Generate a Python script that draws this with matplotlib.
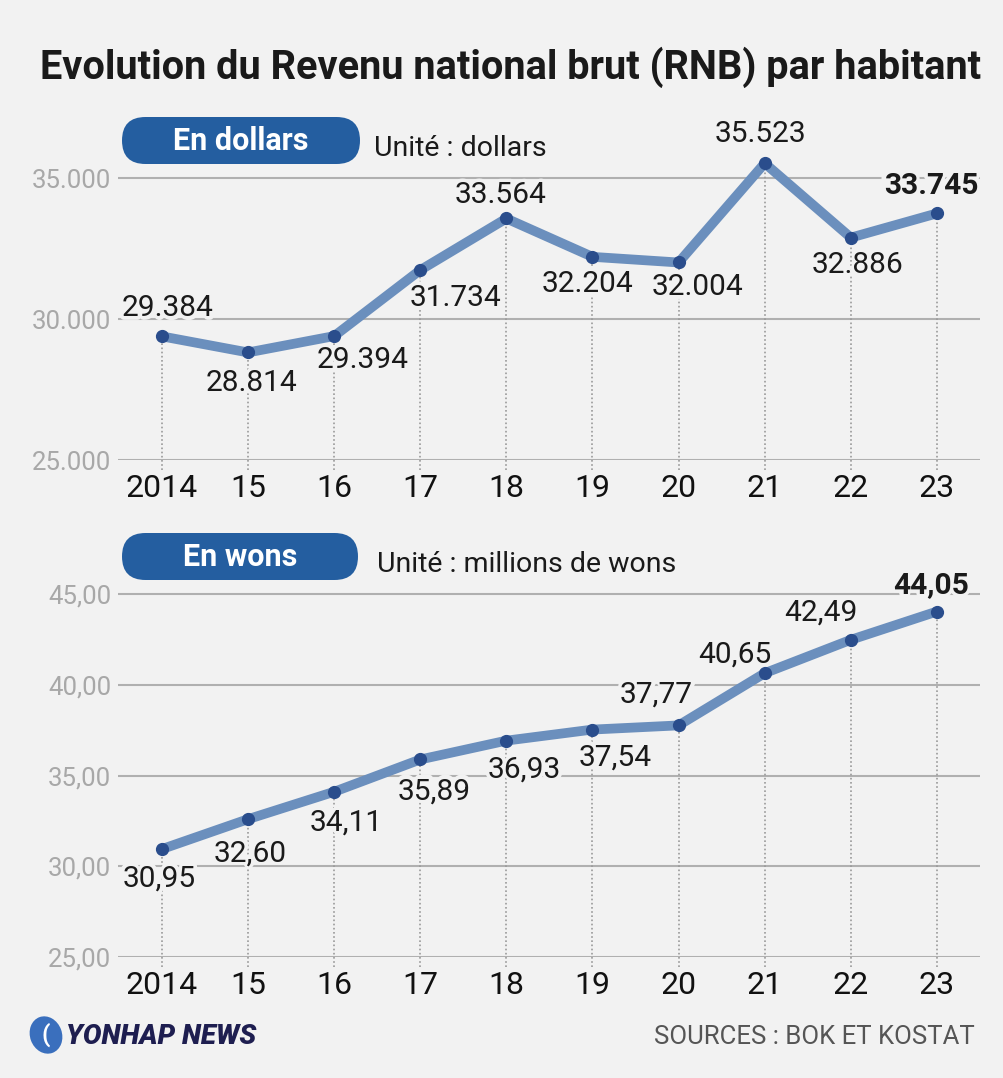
import matplotlib
matplotlib.use("Agg")
import matplotlib.pyplot as plt
import matplotlib.patheffects as pe
from matplotlib.patches import FancyBboxPatch, Ellipse

plt.rcParams['font.family'] = ['Roboto', 'DejaVu Sans']

years = ["2014", "15", "16", "17", "18", "19", "20", "21", "22", "23"]
usd_values = [29384, 28814, 29394, 31734, 33564, 32204, 32004, 35523, 32886, 33745]
usd_labels = ["29.384", "28.814", "29.394", "31.734", "33.564", "32.204", "32.004", "35.523", "32.886", "33.745"]
usd_ticks = [25000, 30000, 35000]
usd_ticklabels = ["25.000", "30.000", "35.000"]
krw_values = [30.95, 32.60, 34.11, 35.89, 36.93, 37.54, 37.77, 40.65, 42.49, 44.05]
krw_labels = ["30,95", "32,60", "34,11", "35,89", "36,93", "37,54", "37,77", "40,65", "42,49", "44,05"]
krw_ticks = [25, 30, 35, 40, 45]
krw_ticklabels = ["25,00", "30,00", "35,00", "40,00", "45,00"]

# label offsets in pixels (dx, dy; dy positive = up)
usd_off = [(6, 28), (3, -31), (28, -24), (35, -28), (-6, 23), (-5, -27), (19, -25), (-4, 29), (7, -27), (-6, 27)]
krw_off = [(-3, -30), (2, -34), (12, -31), (14, -32), (18, -29), (23, -28), (-22, 31), (-30, 19), (-30, 27), (-6, 26)]

W, H = 1004, 1078
BG = "#f2f2f2"
LINE = "#6b8fbd"
DOT = "#2a4d8c"
GRID = "#b0b0b0"
PILL = "#245ea0"

fig = plt.figure(figsize=(W / 100, H / 100), dpi=100, facecolor=BG)

def fx(px):
    return px / W

def fy(py):
    return 1 - py / H

def make_axes(top_px, bottom_px, ylim, ticks, ticklabels, values, labels, offs, per5px):
    ax = fig.add_axes([fx(118), fy(bottom_px), fx(980) - fx(118), (bottom_px - top_px) / H])
    ax.set_facecolor(BG)
    x = list(range(len(values)))
    ax.set_xlim(-0.51, 9.5)
    ax.set_ylim(*ylim)
    ext = 10 * (ticks[1] - ticks[0]) / per5px
    for xi, v in zip(x, values):
        ax.plot([xi, xi], [ylim[0] - ext, v], ls=(0, (1, 1.5)), color="#9a9a9a", lw=1.2,
                clip_on=False, zorder=1)
    for t in ticks:
        ax.axhline(t, color=GRID, lw=1.5, zorder=0)
    ax.plot(x, values, color=LINE, lw=7, solid_capstyle="round", zorder=2)
    ax.plot(x, values, "o", color=DOT, ms=8.5, zorder=3)
    for i, (xi, v, lab, (dx, dy)) in enumerate(zip(x, values, labels, offs)):
        last = i == len(values) - 1
        kw = dict(xytext=(dx * 0.72, dy * 0.72), textcoords="offset points",
                  ha="center", va="center", fontsize=21.5,
                  fontweight="bold" if last else "normal")
        # halo under the text that cuts grid and dotted lines but not the data line
        ax.annotate(lab, (xi, v), color=BG, zorder=1.5,
                    path_effects=[pe.withStroke(linewidth=5, foreground=BG)], **kw)
        ax.annotate(lab, (xi, v), color="#1a1a1a", zorder=4, **kw)
    ax.set_yticks(ticks)
    ax.set_yticklabels(ticklabels)
    ax.set_xticks(x)
    ax.set_xticklabels(years)
    ax.tick_params(axis="y", length=0, pad=5, labelsize=18.5, labelcolor="#a8a8a8")
    ax.tick_params(axis="x", length=0, pad=10, labelsize=23, labelcolor="#111111")
    for s in ax.spines.values():
        s.set_visible(False)
    return ax

make_axes(121.6, 460, (25000, 37000), usd_ticks, usd_ticklabels, usd_values, usd_labels, usd_off, 141)
make_axes(558, 957, (25, 47), krw_ticks, krw_ticklabels, krw_values, krw_labels, krw_off, 90.7)

# Title
fig.text(fx(511), fy(67), "Evolution du Revenu national brut (RNB) par habitant",
         ha="center", va="center", fontsize=28.6, fontweight="bold", color="#1a1a1a")

# Pills
def pill(x0, y0, x1, y1, text):
    w = (x1 - x0) / 100
    h = (y1 - y0) / 100
    p = FancyBboxPatch((x0 / 100, (H - y1) / 100), w, h,
                       boxstyle="round,pad=0,rounding_size=%f" % (h / 2),
                       transform=fig.dpi_scale_trans, facecolor=PILL, edgecolor="none")
    fig.add_artist(p)
    fig.text(fx((x0 + x1) / 2), fy((y0 + y1) / 2), text, ha="center", va="center",
             fontsize=22, fontweight="bold", color="white")

pill(122, 117, 360, 164, "En dollars")
pill(122, 533, 358, 580, "En wons")
fig.text(fx(374), fy(148), "Unité : dollars", ha="left", va="center", fontsize=20.5, color="#1a1a1a")
fig.text(fx(377), fy(564), "Unité : millions de wons", ha="left", va="center", fontsize=20.5, color="#1a1a1a")

# Logo
logo = Ellipse((46 / 100, (H - 1035) / 100), 0.32, 0.38, angle=20, transform=fig.dpi_scale_trans,
               facecolor="#3a6fbd", edgecolor="none")
fig.add_artist(logo)
fig.text(fx(46), fy(1035), "(", ha="center", va="center", fontsize=17, color="white",
         fontweight="bold")
fig.text(fx(66), fy(1036), "YONHAP NEWS", ha="left", va="center", fontsize=20,
         fontweight="heavy", fontstyle="italic", color="#1e1e50")

# Source
fig.text(fx(975), fy(1037), "SOURCES : BOK ET KOSTAT", ha="right", va="center",
         fontsize=18.5, color="#555555")

fig.savefig("out.png", dpi=100, facecolor=BG)
